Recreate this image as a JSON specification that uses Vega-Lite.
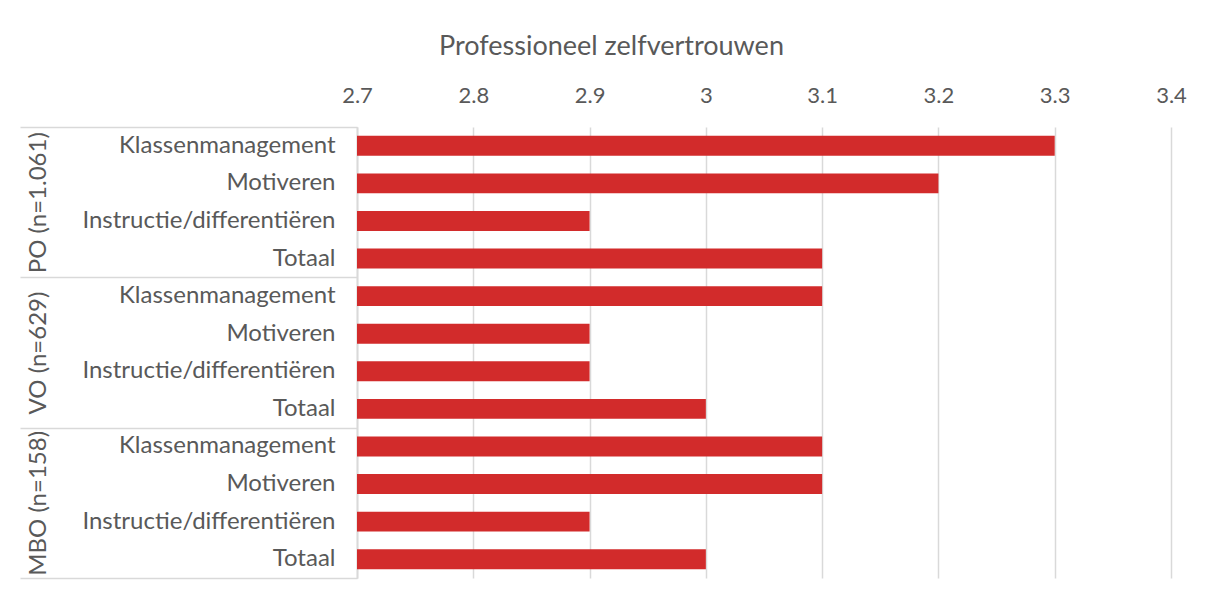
{
  "$schema": "https://vega.github.io/schema/vega-lite/v6.json",
  "width": 814,
  "height": 451,
  "autosize": {"type": "none"},
  "padding": {"left": 357, "top": 127, "right": 34, "bottom": 30},
  "background": "white",
  "config": {
    "view": {"stroke": null},
    "font": "Lato",
    "axis": {"labelFont": "Lato", "titleFont": "Lato", "labelColor": "#595959", "titleColor": "#595959"}
  },
  "data": {
    "values": [
      {"key": "PO|Klassenmanagement", "group": "PO (n=1.061)", "value": 3.3},
      {"key": "PO|Motiveren", "group": "PO (n=1.061)", "value": 3.2},
      {"key": "PO|Instructie/differentiëren", "group": "PO (n=1.061)", "value": 2.9},
      {"key": "PO|Totaal", "group": "PO (n=1.061)", "value": 3.1},
      {"key": "VO|Klassenmanagement", "group": "VO (n=629)", "value": 3.1},
      {"key": "VO|Motiveren", "group": "VO (n=629)", "value": 2.9},
      {"key": "VO|Instructie/differentiëren", "group": "VO (n=629)", "value": 2.9},
      {"key": "VO|Totaal", "group": "VO (n=629)", "value": 3.0},
      {"key": "MBO|Klassenmanagement", "group": "MBO (n=158)", "value": 3.1},
      {"key": "MBO|Motiveren", "group": "MBO (n=158)", "value": 3.1},
      {"key": "MBO|Instructie/differentiëren", "group": "MBO (n=158)", "value": 2.9},
      {"key": "MBO|Totaal", "group": "MBO (n=158)", "value": 3.0}
    ]
  },
  "layer": [
    {
      "mark": {"type": "bar", "color": "#d22b2b", "clip": true},
      "encoding": {
        "y": {
          "field": "key",
          "type": "nominal",
          "sort": null,
          "scale": {"paddingInner": 0.47, "paddingOuter": 0.235},
          "axis": {
            "orient": "left",
            "title": null,
            "ticks": false,
            "labelExpr": "split(datum.value, '|')[1]",
            "labelFontSize": 24,
            "labelLimit": 0,
            "labelPadding": 22,
            "domainColor": "#d9d9d9",
            "domainWidth": 1.5
          }
        },
        "x": {
          "field": "value",
          "type": "quantitative",
          "scale": {"domain": [2.7, 3.4], "nice": false, "zero": false},
          "axis": {
            "orient": "top",
            "title": "Professioneel zelfvertrouwen",
            "titleFontSize": 27,
            "titleFontWeight": "normal",
            "titleX": 254,
            "titleY": -81,
            "titleBaseline": "middle",
            "titleAlign": "center",
            "values": [2.7, 2.8, 2.9, 3.0, 3.1, 3.2, 3.3, 3.4],
            "format": "~g",
            "labelFontSize": 22,
            "labelPadding": 20,
            "labelFlush": false,
            "ticks": false,
            "domain": false,
            "grid": true,
            "gridColor": "#d9d9d9",
            "gridWidth": 1.5
          }
        }
      }
    },
    {
      "mark": {"type": "point", "opacity": 0},
      "encoding": {
        "y": {
          "field": "group",
          "type": "nominal",
          "sort": null,
          "scale": {"paddingInner": 0, "paddingOuter": 0},
          "axis": {
            "orient": "left",
            "title": null,
            "ticks": true,
            "tickBand": "extent",
            "tickSize": 337,
            "tickColor": "#d9d9d9",
            "tickWidth": 1.5,
            "labelAngle": -90,
            "labelAlign": "center",
            "labelBaseline": "middle",
            "labelFontSize": 24,
            "labelLimit": 0,
            "labelPadding": -18,
            "domainColor": "#d9d9d9",
            "domainWidth": 1.5
          }
        },
        "x": {"field": "value", "type": "quantitative"}
      }
    }
  ],
  "resolve": {"scale": {"y": "independent"}, "axis": {"y": "independent"}}
}
